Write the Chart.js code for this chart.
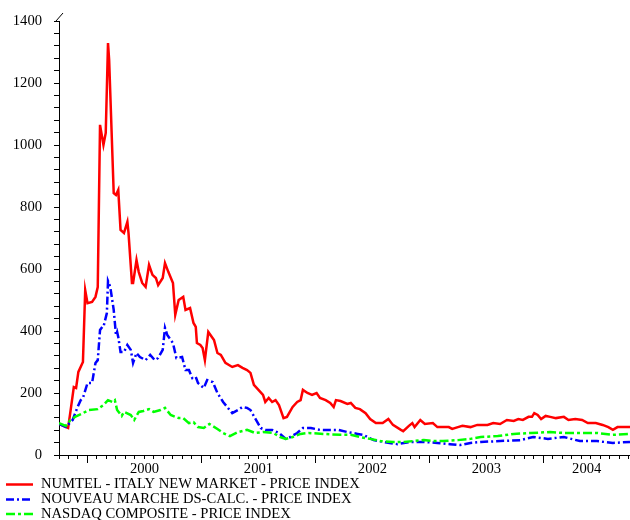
<!DOCTYPE html>
<html>
<head>
<meta charset="utf-8">
<script src="https://cdn.jsdelivr.net/npm/chart.js@4.4.1/dist/chart.umd.min.js"></script>
<style>
    body { margin: 0; background: #fff; }
    canvas { display: block; }
</style>
</head>
<body>
<canvas id="chart" width="630" height="520"></canvas>
<script>
// dates are decimal years
const numtelDates = [1999.75, 1999.83, 1999.85, 1999.88, 1999.90, 1999.92, 1999.96, 1999.98, 2000.00, 2000.04, 2000.07, 2000.09, 2000.11, 2000.14, 2000.16, 2000.18, 2000.19, 2000.23, 2000.25, 2000.27, 2000.29, 2000.32, 2000.35, 2000.36, 2000.39, 2000.40, 2000.43, 2000.45, 2000.48, 2000.51, 2000.54, 2000.57, 2000.60, 2000.62, 2000.66, 2000.68, 2000.71, 2000.75, 2000.77, 2000.80, 2000.84, 2000.86, 2000.90, 2000.93, 2000.95, 2000.96, 2000.99, 2001.01, 2001.03, 2001.06, 2001.11, 2001.14, 2001.17, 2001.21, 2001.27, 2001.32, 2001.36, 2001.40, 2001.43, 2001.46, 2001.50, 2001.54, 2001.56, 2001.59, 2001.62, 2001.65, 2001.68, 2001.72, 2001.75, 2001.80, 2001.84, 2001.87, 2001.89, 2001.93, 2001.97, 2002.01, 2002.04, 2002.09, 2002.13, 2002.16, 2002.18, 2002.22, 2002.28, 2002.31, 2002.35, 2002.39, 2002.44, 2002.48, 2002.53, 2002.59, 2002.64, 2002.68, 2002.75, 2002.77, 2002.82, 2002.85, 2002.87, 2002.92, 2002.96, 2003.03, 2003.07, 2003.12, 2003.17, 2003.20, 2003.25, 2003.29, 2003.36, 2003.42, 2003.51, 2003.56, 2003.62, 2003.68, 2003.74, 2003.78, 2003.82, 2003.87, 2003.90, 2003.92, 2003.95, 2003.98, 2004.02, 2004.06, 2004.11, 2004.18, 2004.22, 2004.28, 2004.34, 2004.39, 2004.46, 2004.52, 2004.57, 2004.61, 2004.65, 2004.70, 2004.76];
const numtelValues = [100, 87, 139, 219, 216, 268, 300, 532, 490, 494, 510, 542, 1065, 1000, 1039, 1329, 1274, 845, 839, 855, 726, 716, 752, 716, 555, 555, 629, 590, 555, 542, 613, 581, 571, 548, 571, 619, 590, 555, 452, 500, 510, 468, 474, 426, 413, 361, 355, 345, 306, 397, 371, 329, 323, 297, 284, 290, 281, 274, 265, 226, 210, 194, 171, 184, 171, 177, 161, 119, 123, 155, 171, 177, 210, 200, 194, 200, 184, 177, 168, 155, 177, 174, 165, 168, 152, 148, 135, 116, 103, 103, 116, 97, 81, 77, 94, 103, 90, 113, 100, 103, 90, 90, 90, 84, 90, 94, 90, 97, 97, 103, 100, 113, 110, 116, 113, 123, 123, 135, 129, 116, 126, 123, 119, 123, 113, 116, 113, 103, 103, 97, 90, 81, 90, 90, 90];

const nouveauDates = [1999.75, 1999.81, 1999.87, 1999.91, 1999.94, 1999.96, 2000.00, 2000.04, 2000.07, 2000.09, 2000.11, 2000.13, 2000.14, 2000.17, 2000.18, 2000.20, 2000.23, 2000.25, 2000.26, 2000.27, 2000.29, 2000.32, 2000.35, 2000.38, 2000.40, 2000.43, 2000.46, 2000.51, 2000.55, 2000.59, 2000.62, 2000.66, 2000.68, 2000.70, 2000.75, 2000.78, 2000.83, 2000.86, 2000.89, 2000.92, 2000.95, 2000.97, 2001.02, 2001.05, 2001.10, 2001.14, 2001.19, 2001.27, 2001.32, 2001.36, 2001.40, 2001.43, 2001.47, 2001.52, 2001.56, 2001.62, 2001.68, 2001.74, 2001.78, 2001.84, 2001.89, 2001.93, 2001.96, 2002.04, 2002.13, 2002.20, 2002.28, 2002.37, 2002.42, 2002.51, 2002.60, 2002.72, 2002.83, 2002.95, 2003.07, 2003.18, 2003.27, 2003.36, 2003.45, 2003.62, 2003.80, 2003.91, 2004.04, 2004.18, 2004.32, 2004.47, 2004.61, 2004.76];
const nouveauValues = [100, 90, 113, 152, 177, 184, 232, 232, 297, 306, 403, 413, 413, 458, 561, 542, 468, 387, 397, 381, 332, 332, 355, 339, 297, 329, 316, 306, 323, 306, 313, 339, 410, 387, 361, 313, 316, 274, 274, 248, 252, 232, 216, 242, 235, 200, 171, 135, 145, 155, 152, 145, 119, 87, 81, 81, 71, 52, 58, 71, 87, 87, 87, 81, 81, 81, 74, 68, 65, 48, 42, 35, 42, 42, 39, 35, 32, 39, 42, 45, 48, 58, 52, 58, 45, 45, 39, 42];

const nasdaqDates = [1999.75, 1999.81, 1999.85, 1999.89, 1999.96, 2000.01, 2000.09, 2000.14, 2000.18, 2000.22, 2000.24, 2000.26, 2000.30, 2000.32, 2000.38, 2000.41, 2000.45, 2000.49, 2000.54, 2000.58, 2000.64, 2000.68, 2000.73, 2000.80, 2000.84, 2000.89, 2000.93, 2000.97, 2001.02, 2001.07, 2001.14, 2001.19, 2001.25, 2001.32, 2001.40, 2001.47, 2001.54, 2001.63, 2001.69, 2001.74, 2001.80, 2001.87, 2001.94, 2002.07, 2002.22, 2002.31, 2002.39, 2002.48, 2002.57, 2002.68, 2002.77, 2002.86, 2002.95, 2003.04, 2003.12, 2003.25, 2003.36, 2003.45, 2003.60, 2003.74, 2003.89, 2004.06, 2004.18, 2004.32, 2004.47, 2004.61, 2004.76];
const nasdaqValues = [103, 94, 113, 123, 135, 145, 148, 161, 177, 171, 177, 145, 126, 139, 129, 113, 139, 142, 148, 139, 145, 152, 129, 119, 119, 103, 106, 90, 87, 100, 84, 71, 61, 74, 81, 71, 74, 71, 58, 52, 58, 68, 71, 68, 65, 65, 58, 52, 45, 42, 42, 45, 48, 45, 45, 48, 52, 58, 61, 68, 71, 74, 71, 71, 71, 65, 68];

const seriesLabels = ['NUMTEL - ITALY NEW MARKET - PRICE INDEX', 'NOUVEAU MARCHE DS-CALC. - PRICE INDEX', 'NASDAQ COMPOSITE - PRICE INDEX'];
const yearLabels = ['2000', '2001', '2002', '2003', '2004'];
const xStart = 1999.75;
const xEnd = 2004.76;

const serif = '"Liberation Serif", "Times New Roman", serif';

const toPoints = (dates, values) => dates.map((d, i) => ({ x: d, y: values[i] }));

const styles = [
    { color: '#ff0000', dash: [] },
    { color: '#0000ff', dash: [8, 3, 2, 3] },
    { color: '#00ff00', dash: [9, 3, 3, 3] }
];

const axisExtras = {
    id: 'axisExtras',
    afterDraw(chart) {
        const ctx = chart.ctx;
        const x = chart.scales.x;
        const area = chart.chartArea;
        ctx.save();
        ctx.strokeStyle = '#000';
        ctx.lineWidth = 1;

        // year ticks are longer than month ticks
        yearLabels.forEach(label => {
            const px = Math.round(x.getPixelForValue(Number(label))) + 0.5;
            ctx.beginPath();
            ctx.moveTo(px, area.bottom);
            ctx.lineTo(px, area.bottom + 8);
            ctx.stroke();
        });

        // little slash on top of the value axis
        ctx.beginPath();
        ctx.moveTo(area.left - 3, area.top);
        ctx.lineTo(area.left + 4, area.top - 8);
        ctx.stroke();

        ctx.fillStyle = '#000';
        ctx.font = '14.6px ' + serif;
        ctx.textAlign = 'center';
        ctx.textBaseline = 'middle';
        yearLabels.forEach(label => {
            const from = Math.max(Number(label), xStart);
            const to = Math.min(Number(label) + 1, xEnd);
            const px = (x.getPixelForValue(from) + x.getPixelForValue(to)) / 2;
            ctx.fillText(label, px, area.bottom + 14);
        });

        // legend
        ctx.textAlign = 'left';
        const rows = [484.5, 499.5, 514];
        seriesLabels.forEach((label, i) => {
            ctx.strokeStyle = styles[i].color;
            ctx.lineWidth = 2.5;
            ctx.setLineDash(styles[i].dash);
            ctx.beginPath();
            ctx.moveTo(6, rows[i]);
            ctx.lineTo(33, rows[i]);
            ctx.stroke();
            ctx.setLineDash([]);
            ctx.fillText(label, 41, rows[i]);
        });
        ctx.restore();
    }
};

const monthTicks = [];
for (let i = 0; i <= 60; i++) monthTicks.push({ value: 1999 + (9 + i) / 12 });
const valueTicks = [];
for (let v = 0; v <= 1400; v += 40) valueTicks.push({ value: v });

new Chart(document.getElementById('chart'), {
    type: 'line',
    data: {
        datasets: [
            { label: seriesLabels[0], data: toPoints(numtelDates, numtelValues) },
            { label: seriesLabels[1], data: toPoints(nouveauDates, nouveauValues) },
            { label: seriesLabels[2], data: toPoints(nasdaqDates, nasdaqValues) }
        ].map((ds, i) => ({
            ...ds,
            borderColor: styles[i].color,
            borderDash: styles[i].dash,
            borderWidth: 2.5,
            pointRadius: 0,
            tension: 0,
            fill: false
        })).reverse()
    },
    options: {
        responsive: false,
        animation: false,
        layout: { padding: { top: 21, left: 0, right: 0, bottom: 0 } },
        plugins: { legend: { display: false }, tooltip: { enabled: false } },
        scales: {
            x: {
                type: 'linear',
                min: xStart,
                max: xEnd,
                afterBuildTicks: scale => { scale.ticks = monthTicks.slice(); },
                afterFit: scale => { scale.height = 65; },
                grid: { drawOnChartArea: false, color: '#000', tickLength: 4, tickColor: '#000' },
                border: { color: '#000', width: 1 },
                ticks: { display: false, autoSkip: false }
            },
            y: {
                min: 0,
                max: 1400,
                afterBuildTicks: scale => { scale.ticks = valueTicks.slice(); },
                afterFit: scale => { scale.width = 59; },
                grid: { drawOnChartArea: false, color: '#000', tickLength: 5, tickColor: '#000' },
                border: { color: '#000', width: 1 },
                ticks: {
                    autoSkip: false,
                    padding: 12,
                    color: '#000',
                    font: { family: serif, size: 14.6 },
                    callback: v => (v % 200 === 0 ? String(v) : '')
                }
            }
        }
    },
    plugins: [axisExtras]
});
</script>
</body>
</html>
